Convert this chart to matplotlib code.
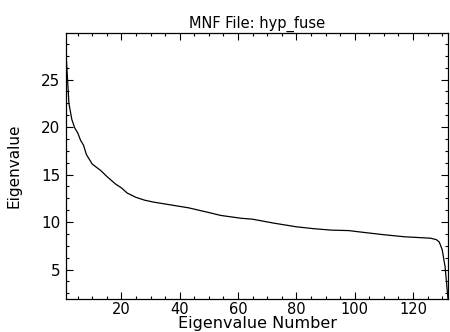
import matplotlib
matplotlib.use('Agg')
import matplotlib.pyplot as plt
from matplotlib.ticker import MultipleLocator

# eigenvalue curve
eigen_num = [1, 2, 3, 4, 5, 6, 7, 8, 10, 13, 15, 18, 20, 22, 25, 28, 31, 37,
             43, 50, 54, 61, 65, 72, 80, 86, 92, 98, 102, 109, 117, 126, 128,
             129, 130, 131, 132]
eigen_val = [27.8, 22.5, 20.8, 19.9, 19.4, 18.6, 18.1, 17.1, 16.1, 15.4, 14.8,
             14.0, 13.6, 13.05, 12.6, 12.3, 12.1, 11.8, 11.5, 11.0, 10.7, 10.4,
             10.3, 9.9, 9.5, 9.3, 9.15, 9.1, 8.95, 8.7, 8.45, 8.3, 8.15, 7.9,
             7.1, 5.3, 1.9]

title = 'MNF File: hyp_fuse'
x_label = 'Eigenvalue Number'
y_label = 'Eigenvalue'

plt.rcParams['font.family'] = ['DejaVu Sans']

fig = plt.figure(figsize=(4.5, 3.32), dpi=100)
ax = fig.add_axes([66 / 450, 33 / 332, (448 - 66) / 450, (299 - 33) / 332])

ax.plot(eigen_num, eigen_val, color='black', linewidth=0.9)

ax.set_xlim(1, 132)
ax.set_ylim(1.9, 29.9)

ax.xaxis.set_major_locator(MultipleLocator(20))
ax.xaxis.set_minor_locator(MultipleLocator(5))
ax.yaxis.set_major_locator(MultipleLocator(5))
ax.yaxis.set_minor_locator(MultipleLocator(1.25))

ax.tick_params(which='both', direction='in', top=True, right=True,
               labelsize=11, width=0.8, colors='black')
ax.tick_params(which='major', length=5)
ax.tick_params(which='minor', length=2.5)
ax.tick_params(axis='x', pad=2, labelsize=10.5)
ax.tick_params(axis='y', pad=4)

for s in ax.spines.values():
    s.set_linewidth(0.9)

ax.set_title(title, fontsize=10.5, pad=4)
ax.set_xlabel(x_label, fontsize=11.5, labelpad=-0.5)
ax.set_ylabel(y_label, fontsize=11, labelpad=14)

fig.savefig('out.png', dpi=100)
